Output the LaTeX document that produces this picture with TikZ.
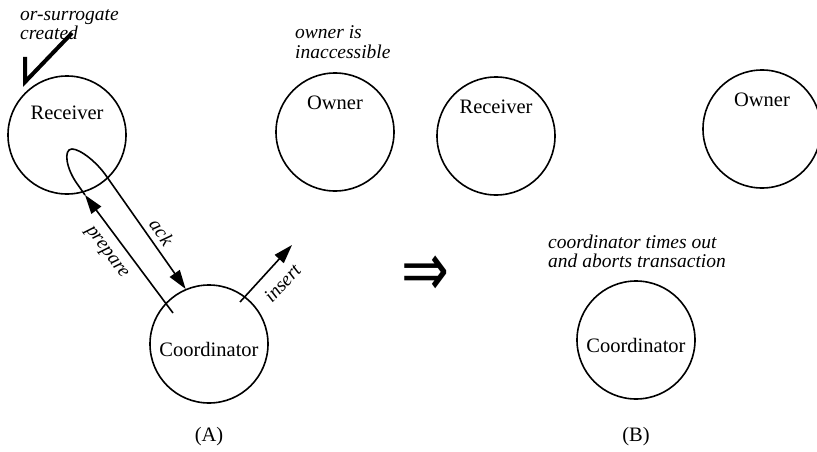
\documentclass[tikz,border=0pt]{standalone}
\usepackage{fontspec}
\setmainfont{Liberation Serif}
\newfontfamily\symbolfont{DejaVu Sans}
\usepackage{tikz}
\usetikzlibrary{positioning, arrows.meta, calc}

\begin{document}
\begin{tikzpicture}[
    x=1pt, y=-1pt,
    font=\fontsize{20.5}{22}\selectfont,
    arrow/.style={-{Triangle[length=19pt, width=12pt]}, line width=1.6pt},
    site/.style={
        circle,
        draw,
        line width=1.6pt,
        minimum size=118pt,
        inner sep=0pt
    },
    remark/.style={
        font=\fontsize{19.5}{19.5}\selectfont\itshape,
        align=left,
        anchor=west,
        inner sep=0pt
    },
    msg/.style={font=\fontsize{19.5}{19.5}\selectfont\itshape, sloped}
]

\useasboundingbox (0,0) rectangle (817,452);

%% (A) - BEFORE THE TIMEOUT %%
\node (recvA) [site] at (67,135) {};
\node (ownerA) [site] at (335,132) {};
\node (coordA) [site] at (209,344) {};

\node (recvAname) at ([yshift=22pt]recvA.center) {Receiver};
\node (ownerAname) at ([yshift=29pt]ownerA.center) {Owner};
\node (coordAname) at ([yshift=-5pt]coordA.center) {Coordinator};

\node (caseA) [below=20pt of coordA] {(A)};

% notes
\node (surrogateNote) [remark] at (20,24.5) {or-surrogate\\created};
\node (ownerNote) [remark] at (295,42) {owner is\\inaccessible};

% tick for the new surrogate
\draw [line width=4pt, miter limit=10] (25,57) -- (25,82) -- (72,33);

%% MESSAGES %%
\coordinate (prepStart) at ($(coordA.center)+(-36,-31)$);
\coordinate (prepTip) at (85,195);
\coordinate (hairL) at (78,185);
\coordinate (hairTop) at (72,149);
\coordinate (hairR) at (107,177);
\coordinate (insStart) at ($(coordA.center)+(31,-42)$);
\coordinate (insEnd) at (292,245);

\draw [arrow] (prepStart) --
    node[msg, pos=0.6, below=7pt] {prepare}
    (prepTip);
\draw [arrow] (prepTip) -- (hairL)
    .. controls (66,169) and (63,149) .. (hairTop)
    .. controls (80,149) and (97,162) .. (hairR) --
    node[msg, pos=0.56, above=2pt] {ack}
    (coordA.113);
\draw [arrow] (insStart) --
    node[msg, pos=0.55, below=8pt] {insert}
    (insEnd);

%% TRANSITION %%
\node (leadsto) at (425,276) {\scalebox{1.3}[1.75]{\symbolfont\fontsize{44}{44}\selectfont ⇒}};

%% (B) - AFTER THE TIMEOUT %%
\node (recvB) [site] at (496,136) {};
\node (ownerB) [site] at (762,129) {};
\node (coordB) [site] at (636,340) {};

\node (recvBname) at ([yshift=29pt]recvB.center) {Receiver};
\node (ownerBname) at ([yshift=29pt]ownerB.center) {Owner};
\node (coordBname) at ([yshift=-5pt]coordB.center) {Coordinator};

\node (caseB) [below=24pt of coordB] {(B)};

\node (timeoutNote) [remark] at (548,251.5) {coordinator times out\\and aborts transaction};

\end{tikzpicture}
\end{document}
